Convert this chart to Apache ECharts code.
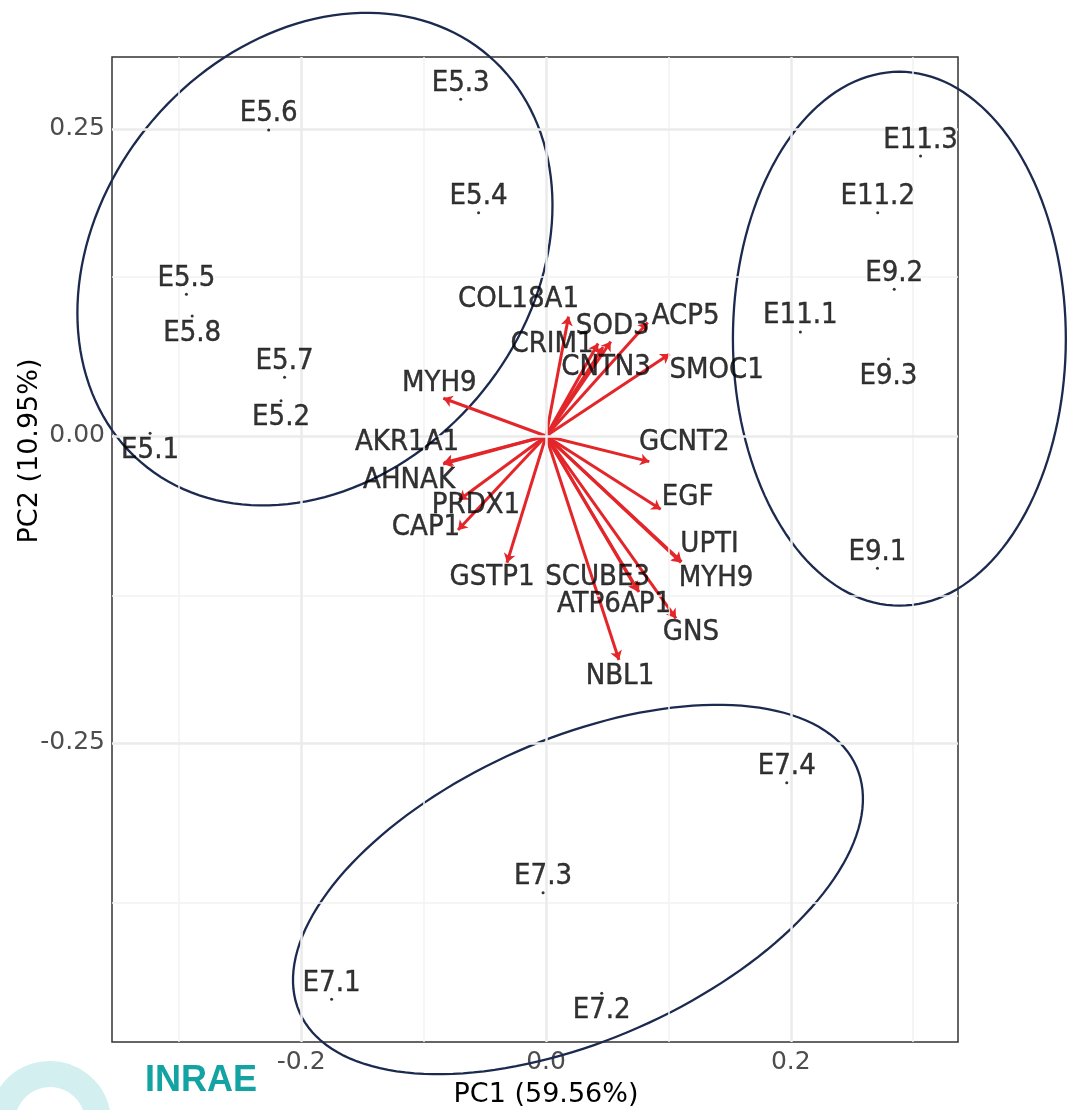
<!DOCTYPE html>
<html>
<head>
<meta charset="utf-8">
<script src="https://cdn.jsdelivr.net/npm/echarts@6/dist/echarts.min.js"></script>
<style>
html,body{margin:0;padding:0;background:#fff;}
#chart{width:1068px;height:1110px;}
</style>
</head>
<body>
<div id="chart"></div>
<script>
// ---- data ----
const samples = ['E5.1','E5.2','E5.3','E5.4','E5.5','E5.6','E5.7','E5.8',
                 'E7.1','E7.2','E7.3','E7.4',
                 'E9.1','E9.2','E9.3','E11.1','E11.2','E11.3'];
const samplePC1 = [-0.3235,-0.2165,-0.0697,-0.0551,-0.2938,-0.2266,-0.2136,-0.2891,
                   -0.1752,0.0455,-0.0024,0.1967,
                   0.2708,0.2845,0.2798,0.2078,0.2710,0.3060];
const samplePC2 = [0.0022,0.0287,0.2742,0.1818,0.1154,0.2492,0.0478,0.0977,
                   -0.4587,-0.4538,-0.3719,-0.2823,
                   -0.1077,0.1195,0.0627,0.0847,0.1818,0.2280];

const variables = ['COL18A1','SOD3','CRIM1','CNTN3','ACP5','SMOC1','MYH9','AKR1A1','AHNAK','PRDX1',
                   'CAP1','GSTP1','GCNT2','EGF','UPTI','MYH9','SCUBE3','ATP6AP1','GNS','NBL1'];
const loadPC1 = [0.0184,0.0529,0.0425,0.0466,0.0831,0.1010,-0.0839,-0.0833,-0.0841,-0.0711,
                 -0.0719,-0.0319,0.0844,0.0937,0.1107,0.1103,0.0748,0.0760,0.1062,0.0596];
const loadPC2 = [0.0972,0.0768,0.0753,0.0725,0.0923,0.0668,0.0307,-0.0217,-0.0228,-0.0521,
                 -0.0765,-0.1032,-0.0209,-0.0597,-0.1024,-0.1030,-0.1260,-0.1270,-0.1485,-0.1824];

// confidence ellipses: center, semi-axes, rotation (deg)
const ellipseGroups = ['E5','E9/E11','E7'];
const ellipseCX = [-0.1888, 0.2887, 0.0261];
const ellipseCY = [0.1440, 0.0792, -0.3693];
const ellipseA  = [0.2181, 0.1360, 0.2485];
const ellipseB  = [0.1742, 0.2174, 0.1228];
const ellipseAngle = [49.3, 0, 23.7];

const xTicks = [-0.2, 0.0, 0.2];
const xMinor = [-0.3, -0.1, 0.1, 0.3];
const yTicks = [-0.25, 0.0, 0.25];
const yMinor = [-0.375, -0.125, 0.125];
const xRange = [-0.3546, 0.3366];
const yRange = [-0.4935, 0.3086];

// ---- styles / label placement ----
const belowLabels = ['E5.1','E5.2','E5.8','E9.3','E7.2'];
const varLabelOffsets = [[-50,-17],[2,-15],[-46,1],[3,21],[38,-6],[47,17],[-4,-15],[-37,-20],[-34,17],[17,6],
                         [-32,-2],[-15,15],[35,-19],[27,-12],[28,-17],[35,16],[-40,-13],[-25,13],[15,14],[1,17]];
const LABEL_FONT = '"DejaVu Sans Condensed", "DejaVu Sans", sans-serif';
const ARROW_RED = '#e3262a';

const chart = echarts.init(document.getElementById('chart'), null, {renderer:'canvas'});

const gridLineData = []
  .concat(xMinor.map(v => ({xAxis: v, lineStyle:{color:'#f2f2f2', width:1.5, type:'solid'}})))
  .concat(yMinor.map(v => ({yAxis: v, lineStyle:{color:'#f2f2f2', width:1.5, type:'solid'}})))
  .concat(xTicks.map(v => ({xAxis: v, lineStyle:{color:'#ebebeb', width:2.5, type:'solid'}})))
  .concat(yTicks.map(v => ({yAxis: v, lineStyle:{color:'#ebebeb', width:2.5, type:'solid'}})));

const labelText = {color:'#000', fontSize:29, fontFamily:LABEL_FONT, textBorderColor:'#000', textBorderWidth:0.4};

const option = {
  animation: false,
  backgroundColor: '#ffffff',
  grid: {left:112, top:57, right:110, bottom:68, show:true, borderColor:'#333333', borderWidth:1.5, backgroundColor:'#ffffff'},
  xAxis: {
    type:'value', min:xRange[0], max:xRange[1],
    axisLine:{show:false}, splitLine:{show:false},
    axisTick:{show:true, customValues:xTicks, length:4, lineStyle:{color:'#333333', width:1}},
    axisLabel:{customValues:xTicks, formatter: v => v.toFixed(1), color:'#4d4d4d', fontSize:25, fontFamily:'DejaVu Sans', margin:8}
  },
  yAxis: {
    type:'value', min:yRange[0], max:yRange[1],
    axisLine:{show:false}, splitLine:{show:false},
    axisTick:{show:true, customValues:yTicks, length:4, lineStyle:{color:'#333333', width:1}},
    axisLabel:{customValues:yTicks, formatter: v => v.toFixed(2), color:'#4d4d4d', fontSize:25, fontFamily:'DejaVu Sans', margin:7}
  },
  graphic: [
    {type:'text', x:546, y:1095, style:{text:'PC1 (59.56%)', align:'center', verticalAlign:'middle', fontSize:27, fontFamily:'DejaVu Sans', fill:'#000'}},
    {type:'text', x:30, y:451, rotation:Math.PI/2, style:{text:'PC2 (10.95%)', align:'center', verticalAlign:'middle', fontSize:27, fontFamily:'DejaVu Sans', fill:'#000'}},
    {type:'arc', z:-1, shape:{cx:50, cy:1122, r:48, startAngle:Math.PI*0.95, endAngle:Math.PI*2.2, clockwise:true}, style:{stroke:'#d4eff0', lineWidth:26, fill:null}},
    {type:'text', style:{text:'INRAE', x:145, y:1081, verticalAlign:'middle', fontSize:36, fontWeight:'bold', fontFamily:'Liberation Sans', fill:'#13a3a3'}}
  ],
  series: [
    {
      type:'scatter', z:1, silent:true, symbolSize:0, data:[[0,0]],
      markLine:{silent:true, symbol:['none','none'], label:{show:false}, animation:false, data: gridLineData}
    },
    {
      type:'custom', coordinateSystem:'cartesian2d', clip:false, silent:true, z:3,
      data: ellipseGroups.map((g,i) => [ellipseCX[i], ellipseCY[i], ellipseA[i], ellipseB[i], ellipseAngle[i]]),
      renderItem: function(params, api){
        const cx = api.value(0), cy = api.value(1), a = api.value(2), b = api.value(3);
        const th = api.value(4) * Math.PI / 180;
        const pts = [];
        const N = 160;
        for (let k = 0; k < N; k++) {
          const t = 2*Math.PI*k/N;
          const dx = a*Math.cos(t), dy = b*Math.sin(t);
          pts.push(api.coord([cx + dx*Math.cos(th) - dy*Math.sin(th), cy + dx*Math.sin(th) + dy*Math.cos(th)]));
        }
        return {type:'polygon', shape:{points:pts}, style:{fill:'none', stroke:'#1b2a4e', lineWidth:2.3}};
      }
    },
    {
      type:'lines', coordinateSystem:'cartesian2d', z:4, silent:true,
      symbol:['none','arrow'], symbolSize:9,
      lineStyle:{color:ARROW_RED, width:3, opacity:1},
      data: variables.map((n,i) => ({name:n, coords:[[0,0],[loadPC1[i], loadPC2[i]]]}))
    },
    {
      type:'scatter', z:5, silent:true, symbolSize:0,
      label:Object.assign({show:true, position:'inside', formatter: p => p.name}, labelText),
      data: variables.map((n,i) => ({name:n, value:[loadPC1[i], loadPC2[i]], label:{offset:varLabelOffsets[i]}}))
    },
    {
      type:'scatter', z:6, silent:true, symbolSize:3,
      itemStyle:{color:'#000'},
      label:Object.assign({show:true, position:'top', distance:0, formatter: p => p.name}, labelText),
      data: samples.map((n,i) => ({name:n, value:[samplePC1[i], samplePC2[i]],
        label: belowLabels.indexOf(n) >= 0 ? {position:'bottom', distance:1} : {position:'top', distance:0}}))
    }
  ]
};
chart.setOption(option);
</script>
</body>
</html>
